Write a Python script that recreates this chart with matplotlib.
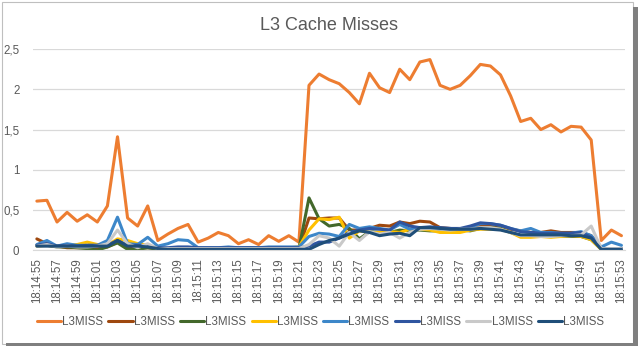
# L3 cache misses per second, eight L3MISS counters
import matplotlib
matplotlib.use("Agg")
import matplotlib.pyplot as plt
from matplotlib.patches import Rectangle

# ===============================================
# Data
# ===============================================

times = ["18:14:%02d" % s for s in range(55, 60)] + ["18:15:%02d" % s for s in range(0, 54)]

orange = [0.61, 0.62, 0.35, 0.47, 0.36, 0.44, 0.35, 0.55, 1.41, 0.40,
          0.30, 0.55, 0.12, 0.20, 0.27, 0.32, 0.10, 0.15, 0.22, 0.18,
          0.08, 0.13, 0.07, 0.18, 0.11, 0.18, 0.10, 2.05, 2.19, 2.12,
          2.07, 1.96, 1.82, 2.20, 2.02, 1.96, 2.25, 2.12, 2.34, 2.37,
          2.05, 2.00, 2.05, 2.17, 2.31, 2.29, 2.18, 1.92, 1.60, 1.64,
          1.50, 1.56, 1.47, 1.54, 1.53, 1.37, 0.12, 0.25, 0.18]

brown = [0.14, 0.08, 0.05, 0.03, 0.03, 0.03, 0.03, 0.04, 0.10, 0.04,
         0.03, 0.03, 0.02, 0.02, 0.03, 0.02, 0.02, 0.02, 0.02, 0.02,
         0.02, 0.03, 0.02, 0.02, 0.02, 0.02, 0.02, 0.40, 0.39, 0.40,
         0.40, 0.25, 0.25, 0.27, 0.31, 0.30, 0.35, 0.33, 0.36, 0.35,
         0.28, 0.27, 0.26, 0.28, 0.30, 0.30, 0.28, 0.26, 0.24, 0.22,
         0.22, 0.24, 0.22, 0.22, 0.22, 0.18, 0.02, 0.02, 0.02]

green = [0.06, 0.06, 0.04, 0.04, 0.03, 0.02, 0.00, 0.04, 0.09, 0.01,
         0.01, 0.03, 0.01, 0.01, 0.01, 0.01, 0.01, 0.01, 0.01, 0.01,
         0.01, 0.01, 0.01, 0.01, 0.01, 0.01, 0.02, 0.65, 0.39, 0.30,
         0.32, 0.27, 0.14, 0.23, 0.22, 0.22, 0.25, 0.24, 0.25, 0.24,
         0.24, 0.26, 0.25, 0.24, 0.27, 0.28, 0.27, 0.22, 0.18, 0.17,
         0.17, 0.18, 0.17, 0.17, 0.17, 0.13, 0.01, 0.01, 0.01]

yellow = [0.05, 0.06, 0.05, 0.06, 0.07, 0.10, 0.07, 0.06, 0.14, 0.12,
          0.08, 0.06, 0.02, 0.02, 0.02, 0.02, 0.02, 0.02, 0.02, 0.02,
          0.02, 0.02, 0.02, 0.02, 0.03, 0.03, 0.04, 0.25, 0.39, 0.38,
          0.41, 0.15, 0.24, 0.22, 0.22, 0.23, 0.22, 0.26, 0.26, 0.25,
          0.22, 0.22, 0.22, 0.25, 0.26, 0.26, 0.26, 0.22, 0.16, 0.16,
          0.17, 0.16, 0.17, 0.18, 0.17, 0.13, 0.01, 0.01, 0.01]

blue = [0.07, 0.12, 0.05, 0.08, 0.06, 0.06, 0.06, 0.12, 0.41, 0.08,
        0.07, 0.16, 0.05, 0.08, 0.13, 0.12, 0.03, 0.03, 0.03, 0.04,
        0.03, 0.03, 0.03, 0.04, 0.04, 0.04, 0.04, 0.17, 0.21, 0.20,
        0.17, 0.32, 0.27, 0.29, 0.27, 0.25, 0.32, 0.26, 0.28, 0.28,
        0.27, 0.27, 0.26, 0.28, 0.33, 0.33, 0.31, 0.27, 0.24, 0.27,
        0.22, 0.22, 0.21, 0.21, 0.23, 0.18, 0.04, 0.10, 0.06]

dark_blue = [0.06, 0.08, 0.05, 0.06, 0.05, 0.06, 0.06, 0.06, 0.12, 0.06,
             0.06, 0.05, 0.03, 0.03, 0.04, 0.04, 0.03, 0.03, 0.03, 0.03,
             0.03, 0.03, 0.03, 0.03, 0.03, 0.03, 0.03, 0.05, 0.10, 0.10,
             0.15, 0.22, 0.25, 0.27, 0.26, 0.25, 0.35, 0.30, 0.28, 0.29,
             0.28, 0.27, 0.27, 0.30, 0.34, 0.33, 0.31, 0.27, 0.23, 0.22,
             0.21, 0.21, 0.21, 0.21, 0.22, 0.16, 0.02, 0.02, 0.02]

light_gray = [0.05, 0.07, 0.04, 0.05, 0.04, 0.04, 0.05, 0.08, 0.25, 0.08,
              0.03, 0.08, 0.02, 0.02, 0.02, 0.02, 0.02, 0.02, 0.02, 0.02,
              0.02, 0.02, 0.02, 0.02, 0.02, 0.02, 0.02, 0.07, 0.18, 0.15,
              0.05, 0.22, 0.12, 0.23, 0.20, 0.22, 0.15, 0.22, 0.26, 0.27,
              0.26, 0.25, 0.26, 0.26, 0.28, 0.28, 0.26, 0.22, 0.18, 0.18,
              0.17, 0.17, 0.18, 0.18, 0.19, 0.30, 0.02, 0.02, 0.02]

navy = [0.05, 0.05, 0.05, 0.05, 0.05, 0.05, 0.05, 0.05, 0.12, 0.05,
        0.05, 0.04, 0.02, 0.01, 0.01, 0.01, 0.01, 0.01, 0.01, 0.01,
        0.01, 0.01, 0.01, 0.01, 0.01, 0.01, 0.01, 0.01, 0.07, 0.12,
        0.15, 0.20, 0.24, 0.22, 0.18, 0.20, 0.21, 0.18, 0.28, 0.28,
        0.27, 0.26, 0.26, 0.26, 0.27, 0.26, 0.25, 0.22, 0.19, 0.19,
        0.19, 0.19, 0.19, 0.18, 0.18, 0.15, 0.01, 0.01, 0.01]

series = [orange, brown, green, yellow, blue, dark_blue, light_gray, navy]
colors = ["#ED7D31", "#9E480E", "#43682B", "#FFC000",
          "#3D87C9", "#2F55A0", "#C9C9C9", "#1F4E79"]

# ===============================================
# Plot
# ===============================================

plt.rcParams["font.family"] = ["Liberation Sans", "DejaVu Sans"]
text_color = "#595959"

fig = plt.figure(figsize=(6.41, 3.46), dpi=100)
ax = fig.add_axes([0.052, 0.277, 0.923, 0.581])

x = list(range(len(times)))
for vals, c in zip(series, colors):
    ax.plot(x, vals, color=c, linewidth=2.2, label="L3MISS",
            solid_joinstyle="round", solid_capstyle="round")

ax.set_xlim(-0.35, len(times) - 1 + 0.35)
ax.set_ylim(0, 2.5)
ax.set_yticks([0, 0.5, 1, 1.5, 2, 2.5])
ax.set_yticklabels(["0", "0,5", "1", "1,5", "2", "2,5"])
ax.set_xticks(x[::2])
ax.set_xticklabels(times[::2], rotation=90)

ax.grid(axis="y", color="#D9D9D9", linewidth=0.9)
ax.set_axisbelow(True)
for side in ["top", "right", "left"]:
    ax.spines[side].set_visible(False)
ax.spines["bottom"].set_color("#D9D9D9")
ax.tick_params(axis="both", length=0, colors=text_color, labelsize=8.3)
ax.tick_params(axis="x", pad=6)
ax.tick_params(axis="y", pad=10)

ax.set_title("L3 Cache Misses", color=text_color, fontsize=13, pad=14)

leg = fig.legend(loc="center", bbox_to_anchor=(0.5, 0.07), ncol=8,
                 frameon=False, fontsize=8.3, handlelength=2.1,
                 handletextpad=0.1, columnspacing=0.45)
for t in leg.get_texts():
    t.set_color(text_color)

# screenshot frame with drop shadow
fig.patches.append(Rectangle((0.003, 0.005), 0.985, 0.99, transform=fig.transFigure,
                             fill=False, edgecolor="#BFBFBF", linewidth=0.8))
fig.patches.append(Rectangle((0.01, 0.0), 0.985, 0.008, transform=fig.transFigure,
                             facecolor="#7F7F7F", edgecolor="none"))
fig.patches.append(Rectangle((0.988, 0.0), 0.007, 0.98, transform=fig.transFigure,
                             facecolor="#7F7F7F", edgecolor="none"))

fig.savefig("out.png", dpi=100, facecolor="white")
